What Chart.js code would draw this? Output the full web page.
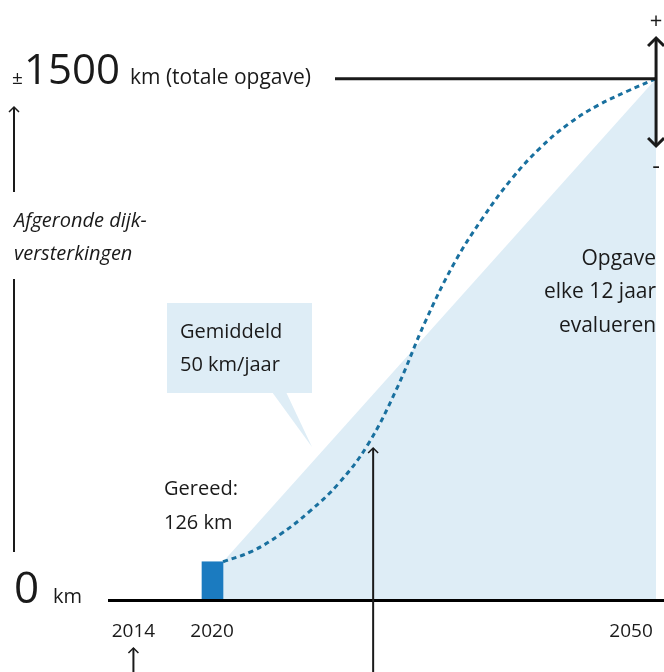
<!DOCTYPE html>
<html>
<head>
<meta charset="utf-8">
<script src="https://cdn.jsdelivr.net/npm/chart.js@4.4.1/dist/chart.umd.min.js"></script>
<style>
  html, body { margin: 0; padding: 0; background: #fff; }
  #wrap { width: 664px; height: 672px; }
</style>
</head>
<body>
<div id="wrap"><canvas id="dijkChart" width="664" height="672"></canvas></div>
<script>
// year labels on the axis
const tickYears = [2014, 2020, 2050];

// completed up to 2020 (bar sits just left of 2020)
const barYear = 2019.27;
const gereedKm = 110;

// average pace line 2020 -> 2050
const averageYears = [2020, 2050];
const averageKm = [110, 1500];

// expected S-curve (dotted)
const curveYears = [2020, 2022, 2024, 2026, 2028, 2030, 2032, 2034, 2036, 2038, 2040, 2042, 2044, 2046, 2048, 2050];
const curveKm = [110, 140, 190, 255, 335, 445, 605, 800, 968, 1100, 1212, 1302, 1372, 1424, 1464, 1500];

const totalKm = 1500;
const arrowYear = 2030.4;

const FONT = "'Open Sans', 'Noto Sans', sans-serif";
const INK = "#1a1a1a";
const FILL = "#deedf6";

function toPoints(xs, ys) {
  return xs.map((x, i) => ({ x, y: ys[i] }));
}

function drawLine(ctx, x1, y1, x2, y2, width) {
  ctx.save();
  ctx.strokeStyle = INK;
  ctx.lineWidth = width;
  ctx.beginPath();
  ctx.moveTo(x1, y1);
  ctx.lineTo(x2, y2);
  ctx.stroke();
  ctx.restore();
}

function drawHead(ctx, x, y, dir, size, width) {
  // dir -1 = pointing up, 1 = pointing down
  ctx.save();
  ctx.strokeStyle = INK;
  ctx.lineWidth = width;
  ctx.beginPath();
  ctx.moveTo(x - size, y - dir * size);
  ctx.lineTo(x, y);
  ctx.lineTo(x + size, y - dir * size);
  ctx.stroke();
  ctx.restore();
}

function text(ctx, str, x, y, size, align, style) {
  ctx.save();
  ctx.fillStyle = INK;
  ctx.font = `${style || ""} ${size}px ${FONT}`;
  ctx.textAlign = align || "left";
  ctx.textBaseline = "alphabetic";
  ctx.fillText(str, x, y);
  ctx.restore();
}

const annotations = {
  id: "dijkAnnotations",
  beforeDatasetsDraw(chart) {
    const ctx = chart.ctx;
    // callout box "Gemiddeld 50 km/jaar"
    ctx.save();
    ctx.fillStyle = FILL;
    ctx.fillRect(167, 303, 145, 90);
    ctx.beginPath();
    ctx.moveTo(272, 392);
    ctx.lineTo(286, 392);
    ctx.lineTo(312, 447);
    ctx.closePath();
    ctx.fill();
    ctx.restore();
  },
  afterDraw(chart) {
    const ctx = chart.ctx;
    const xs = chart.scales.x;
    const ys = chart.scales.y;
    const topY = ys.getPixelForValue(totalKm);
    const endX = xs.getPixelForValue(2050);

    // total line
    drawLine(ctx, 335, topY, endX, topY, 3);

    // +/- range arrow at 2050
    drawLine(ctx, endX, 38, endX, 146, 3);
    drawHead(ctx, endX, 38, -1, 8, 3);
    drawHead(ctx, endX, 146, 1, 8, 3);
    text(ctx, "+", endX, 28, 22, "center");
    text(ctx, "-", endX, 174, 24, "center");

    // y label texts
    text(ctx, "±", 12, 84, 19);
    text(ctx, "1500", 24, 84, 42);
    text(ctx, "km (totale opgave)", 130, 84, 21);
    text(ctx, "Afgeronde dijk-", 14, 227, 20, "left", "italic");
    text(ctx, "versterkingen", 14, 260, 20, "left", "italic");
    text(ctx, "0", 14, 603, 44);
    text(ctx, "km", 53, 603, 20);

    // left axis arrow and line
    drawLine(ctx, 14, 107, 14, 192, 2);
    drawHead(ctx, 14, 107, -1, 5, 1.5);
    drawLine(ctx, 14, 279, 14, 552, 2);

    // callout and labels
    text(ctx, "Gemiddeld", 180, 338, 20);
    text(ctx, "50 km/jaar", 180, 371, 20);
    text(ctx, "Gereed:", 164, 495, 20);
    text(ctx, "126 km", 164, 529, 20);
    text(ctx, "Opgave", endX, 265, 21, "right");
    text(ctx, "elke 12 jaar", endX, 298, 21, "right");
    text(ctx, "evalueren", endX, 332, 21, "right");

    // year labels
    const nudge = { 2014: -3, 2020: -11, 2050: -25 };
    tickYears.forEach((yr) => {
      text(ctx, String(yr), xs.getPixelForValue(yr) + (nudge[yr] || 0), 637, 19, "center");
    });

    // arrows below axis
    const x2014 = xs.getPixelForValue(2014) - 3;
    drawLine(ctx, x2014, 648, x2014, 672, 2);
    drawHead(ctx, x2014, 648, -1, 5, 1.5);
    const xa = xs.getPixelForValue(arrowYear);
    drawLine(ctx, xa, 448, xa, 672, 2);
    drawHead(ctx, xa, 448, -1, 5, 1.5);
  },
};

new Chart(document.getElementById("dijkChart"), {
  data: {
    datasets: [
      {
        type: "line",
        data: toPoints(averageYears, averageKm),
        fill: "origin",
        backgroundColor: FILL,
        borderWidth: 0,
        pointRadius: 0,
        tension: 0,
        order: 3,
      },
      {
        type: "bar",
        data: [{ x: barYear, y: gereedKm }],
        backgroundColor: "#1b7bc0",
        barThickness: 21,
        order: 2,
      },
      {
        type: "line",
        data: toPoints(curveYears, curveKm),
        borderColor: "#19709f",
        borderWidth: 3,
        borderDash: [5, 4],
        borderCapStyle: "butt",
        tension: 0.4,
        pointRadius: 0,
        fill: false,
        clip: false,
        order: 1,
      },
    ],
  },
  options: {
    responsive: false,
    animation: false,
    devicePixelRatio: 1,
    layout: { padding: { left: 109, right: 0, top: 44, bottom: 0 } },
    plugins: { legend: { display: false }, tooltip: { enabled: false } },
    scales: {
      x: {
        type: "linear",
        min: 2012.1,
        max: 2050.55,
        offset: false,
        grid: { display: false, drawTicks: false, offset: false },
        ticks: { display: false },
        border: { display: true, color: "#000", width: 3, z: 1 },
        afterFit: (scale) => { scale.height = 72; },
      },
      y: {
        type: "linear",
        min: 0,
        max: 1600,
        display: false,
      },
    },
  },
  plugins: [annotations],
});
</script>
</body>
</html>
